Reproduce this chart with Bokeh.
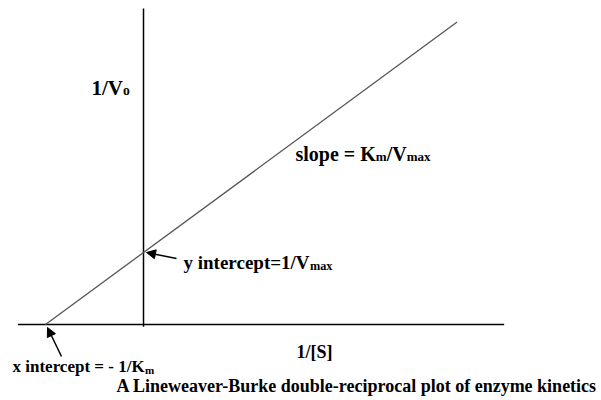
from bokeh.plotting import figure
from bokeh.models import Label, Arrow, NormalHead, Range1d
from bokeh.embed import file_html
from bokeh.resources import INLINE

# Kinetic constants (schematic units)
Km = 2.0
Vmax = 1.0
x_intercept = -1.0 / Km
y_intercept = 1.0 / Vmax
slope = Km / Vmax

line_x = [x_intercept, 1.6]
line_y = [y_intercept + slope * x for x in line_x]

xaxis_x = [-0.64, 1.84]
xaxis_y = [0.0, 0.0]
yaxis_x = [0.0, 0.0]
yaxis_y = [-0.03, 4.39]

title_text = "A Lineweaver-Burke double-reciprocal plot of enzyme kinetics"

p = figure(width=601, height=400, output_backend="svg", toolbar_location=None,
           x_range=Range1d(-143 / 196.0, 458 / 196.0), y_range=Range1d(-76 / 72.0, 324 / 72.0),
           min_border=0, outline_line_color=None)
p.axis.visible = False
p.grid.visible = False
p.background_fill_color = "white"

p.line(xaxis_x, xaxis_y, line_color="black", line_width=1.5)
p.line(yaxis_x, yaxis_y, line_color="black", line_width=1.5)
p.line(line_x, line_y, line_color="#555555", line_width=1.3)

W = {' ': .25, '=': .570, '-': .333, '/': .278, '1': .5, '[': .333, ']': .333,
     'A': .722, 'B': .667, 'K': .778, 'L': .667, 'S': .556, 'V': .722,
     'a': .5, 'b': .556, 'c': .444, 'd': .556, 'e': .444, 'f': .333, 'i': .278,
     'k': .556, 'l': .278, 'm': .833, 'n': .556, 'o': .5, 'p': .556, 'r': .444,
     's': .389, 't': .333, 'u': .556, 'v': .5, 'w': .722, 'x': .5, 'y': .5, 'z': .444}

FONT = "Liberation Serif"


def px2x(px):
    return (px - 143) / 196.0


def py2y(py):
    return (324 - py) / 72.0


def rich(segments, px, py, size=18, sub_scale=0.65, sub_drop=3):
    off = 0.0
    for text, sub in segments:
        fs = size * sub_scale if sub else size
        p.add_layout(Label(x=px2x(px), y=py2y(py), x_offset=off, y_offset=-sub_drop if sub else 0,
                           text=text, text_font=FONT, text_font_style="bold",
                           text_font_size=f"{fs:.1f}px", text_color="black",
                           text_baseline="alphabetic", text_align="left"))
        off += sum(W.get(c, .5) for c in text) * fs


rich([("1/V", False), ("o", True)], 91, 87, 21)
rich([("slope = K", False), ("m", True), ("/V", False), ("max", True)], 295, 153, 20)
rich([("y intercept=1/V", False), ("max", True)], 183, 262, 19)
rich([("x intercept = - 1/K", False), ("m", True)], 12, 366, 17)
rich([("1/[S]", False)], 296, 351, 18)
rich([(title_text, False)], 116, 385, 18)

head = dict(size=9, fill_color="black", line_color="black")
p.add_layout(Arrow(end=NormalHead(**head), x_start=px2x(176), y_start=py2y(258),
                   x_end=px2x(146), y_end=py2y(252), line_width=1.5, line_color="black"))
p.add_layout(Arrow(end=NormalHead(**head), x_start=px2x(61), y_start=py2y(356),
                   x_end=px2x(47), y_end=py2y(327), line_width=1.5, line_color="black"))

open("out.html", "w").write(file_html(p, INLINE))
